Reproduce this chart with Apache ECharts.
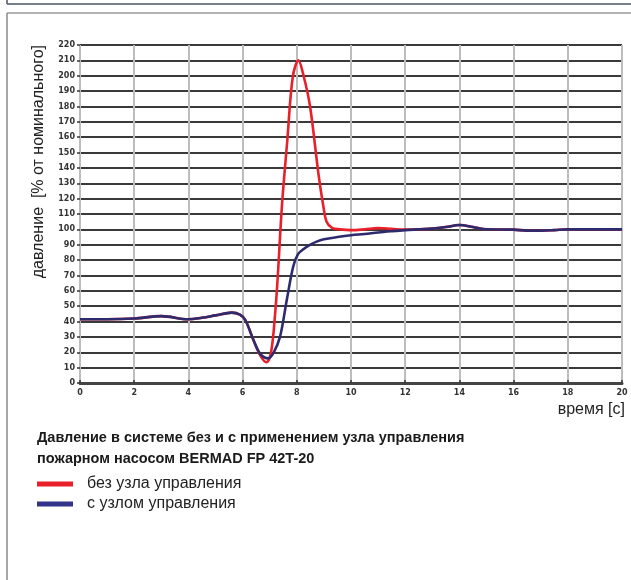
<!DOCTYPE html>
<html><head><meta charset="utf-8">
<script src="https://cdn.jsdelivr.net/npm/echarts@6/dist/echarts.min.js"></script>
<style>html,body{margin:0;padding:0;background:#fff;}#c{width:631px;height:580px;}</style>
</head><body><div id="c"></div>
<script>
const xTicks = [0,2,4,6,8,10,12,14,16,18,20];
const yTicks = [0,10,20,30,40,50,60,70,80,90,100,110,120,130,140,150,160,170,180,190,200,210,220];
const seriesNames = ['без узла управления','с узлом управления'];
const redSeries = [[0,41.5],[1,41.5],[2,42],[3,43.5],[4,41.5],[4.5,42.5],[5,44],[5.6,45.8],[5.9,44.5],[6.1,41],[6.4,28],[6.65,18],[6.88,13.5],[7.05,20],[7.2,45],[7.3,70],[7.45,115],[7.65,158],[7.85,199],[8.06,210],[8.25,200],[8.49,180],[8.8,136],[8.98,115],[9.1,105],[9.3,101],[9.6,100],[10,99.5],[10.5,100],[11,100.8],[11.5,100.3],[12,99.8],[12.5,100],[13,100.5],[13.5,101.5],[14,102.8],[14.5,101.5],[15,100],[16,99.8],[16.5,99.2],[17,99.2],[17.5,99.5],[18,100],[19,100],[20,100]];
const blueSeries = [[0,41.5],[1,41.5],[2,42],[3,43.5],[4,41.5],[4.5,42.5],[5,44],[5.6,45.8],[5.9,44.5],[6.1,41],[6.4,28],[6.65,19],[6.95,16],[7.15,20],[7.38,30],[7.63,54],[7.87,76],[8.05,84],[8.24,87],[8.5,90],[8.73,92],[9,93.5],[9.5,95],[10,96.2],[10.5,97],[11,98],[11.5,98.8],[12,99.5],[12.5,100],[13,100.5],[13.5,101.5],[14,102.8],[14.5,101.5],[15,100],[16,99.8],[16.5,99.2],[17,99.2],[17.5,99.5],[18,100],[19,100],[20,100]];
const titleLines = ['Давление в системе без и с применением узла управления','пожарном насосом BERMAD FP 42T-20'];
const yName = 'давление  [% от номинального]';
const xName = 'время [с]';

const chart = echarts.init(document.getElementById('c'));
chart.setOption({
  animation:false,
  backgroundColor:'#fff',
  title:{text:titleLines.join('\n'),left:37,top:427,padding:0,textStyle:{fontFamily:'Liberation Sans',fontSize:14.5,fontWeight:'bold',color:'#1a1a1a',lineHeight:21}},
  legend:{orient:'vertical',left:37,top:476,padding:0,itemWidth:36,itemHeight:5,itemGap:4,icon:'rect',
    textStyle:{fontFamily:'Liberation Sans',fontSize:16,color:'#222',padding:[0,0,0,9]},data:seriesNames},
  grid:{left:80,right:9,top:45,bottom:197,containLabel:false},
  xAxis:{type:'value',min:0,max:20,interval:2,
    name:xName,nameLocation:'end',nameGap:0,
    nameTextStyle:{fontFamily:'Liberation Sans',fontSize:16,color:'#222',align:'right',verticalAlign:'top',padding:[19,-3,0,0]},
    axisLine:{show:true,lineStyle:{color:'#444',width:3}},
    axisTick:{show:true,inside:true,length:3,lineStyle:{color:'#333',width:1.5}},
    axisLabel:{fontFamily:'DejaVu Sans',fontWeight:'bold',fontSize:8,color:'#333',margin:6,
      formatter:v=>xTicks.includes(v)?String(v):''},
    splitLine:{show:true,lineStyle:{color:'#bdbdbd',width:2}}},
  yAxis:{type:'value',min:0,max:220,interval:10,
    name:yName,nameLocation:'end',nameRotate:90,nameGap:0,
    nameTextStyle:{fontFamily:'Liberation Sans',fontSize:16,color:'#222',align:'right',verticalAlign:'bottom',padding:[0,0,33,0]},
    axisLine:{show:false},
    axisTick:{show:true,length:3,lineStyle:{color:'#333',width:1.5}},
    axisLabel:{fontFamily:'DejaVu Sans',fontWeight:'bold',fontSize:8,color:'#333',margin:5,
      formatter:v=>yTicks.includes(v)?String(v):''},
    splitLine:{show:true,lineStyle:{color:'#3a3a3a',width:2}}},
  series:[
    {name:seriesNames[0],type:'line',data:redSeries,smooth:0.35,showSymbol:false,symbol:'none',
      lineStyle:{color:'#e8202a',width:2.6},itemStyle:{color:'#e8202a'},z:2},
    {name:seriesNames[1],type:'line',data:blueSeries,smooth:0.35,showSymbol:false,symbol:'none',
      lineStyle:{color:'#2d2a6e',width:2.6},itemStyle:{color:'#33338a'},z:3}
  ],
  graphic:[
    {type:'line',shape:{x1:7,y1:4,x2:631,y2:4},style:{stroke:'#4a5560',lineWidth:1.5}},
    {type:'line',shape:{x1:7,y1:0,x2:7,y2:4},style:{stroke:'#4a5560',lineWidth:1.5}},
    {type:'line',shape:{x1:7,y1:13,x2:631,y2:13},style:{stroke:'#9a9a9a',lineWidth:1.5}},
    {type:'line',shape:{x1:7,y1:13,x2:7,y2:580},style:{stroke:'#8a8a8a',lineWidth:1.5}}
  ]
});
</script></body></html>
